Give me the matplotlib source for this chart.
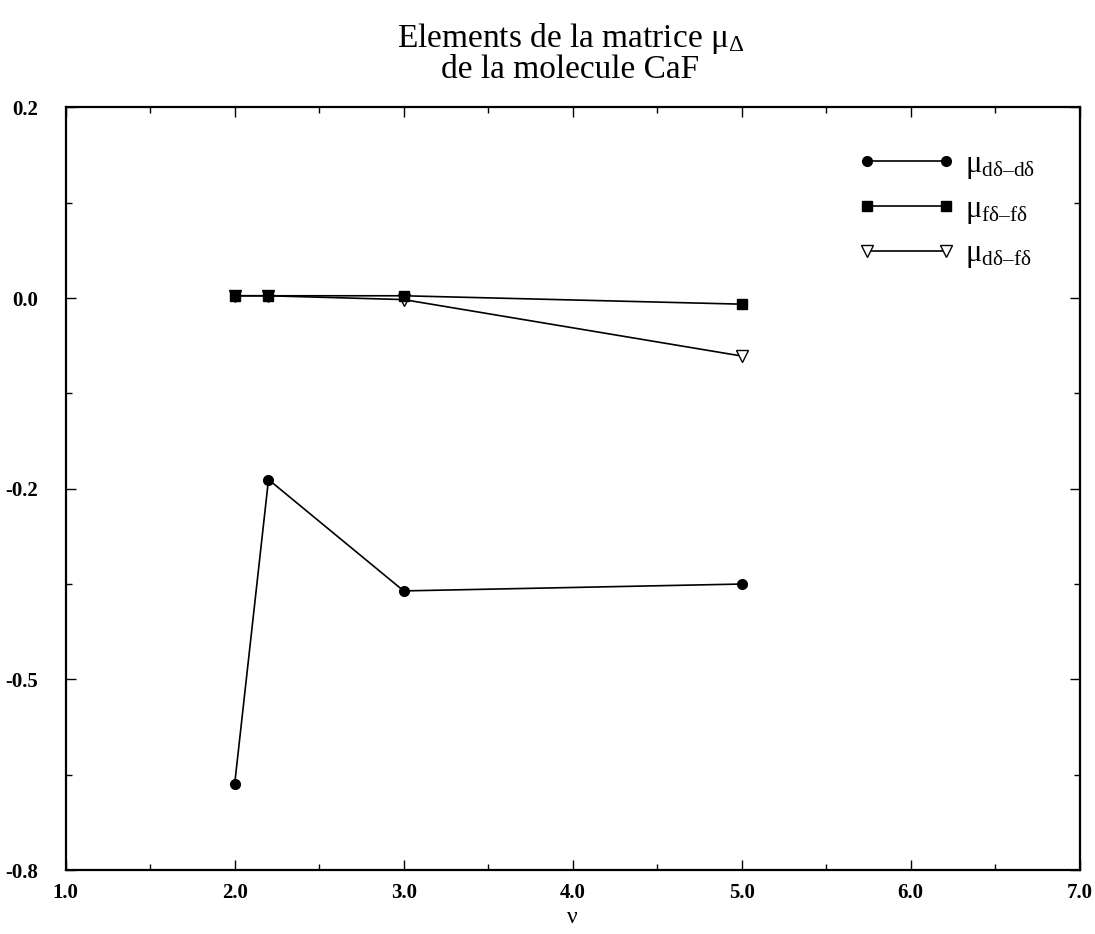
import matplotlib
matplotlib.use("Agg")
import matplotlib.pyplot as plt
from matplotlib.lines import Line2D
from matplotlib.legend_handler import HandlerLine2D
from matplotlib.ticker import MultipleLocator, FixedLocator

plt.rcParams['font.family'] = ['Liberation Serif', 'DejaVu Serif']
plt.rcParams['mathtext.fontset'] = 'stix'
plt.rcParams['axes.unicode_minus'] = False

# quantum number nu and matrix elements
nu = [2.0, 2.2, 3.0, 5.0]
mu_dd = [-0.687, -0.288, -0.434, -0.425]
mu_ff = [-0.047, -0.047, -0.047, -0.058]
mu_df = [-0.047, -0.047, -0.052, -0.126]

x_ticks = [1.0, 2.0, 3.0, 4.0, 5.0, 6.0, 7.0]
x_labels = ['1.0', '2.0', '3.0', '4.0', '5.0', '6.0', '7.0']
y_ticks = [0.2, -0.05, -0.3, -0.55, -0.8]
y_labels = ['0.2', '0.0', '-0.2', '-0.5', '-0.8']
y_minor = [0.075, -0.175, -0.425, -0.675]

W, H = 1095, 934
fig = plt.figure(figsize=(W / 100, H / 100), dpi=100)
ax = fig.add_axes([0.060, 0.0685, 0.926, 0.8165])

lw = 1.2
ax.plot(nu, mu_df, color='black', lw=lw, marker='v', ms=9,
        mfc='white', mec='black', mew=1.0,
        label=r'$\mathregular{\mu_{d\delta–f\delta}}$', zorder=2)
ax.plot(nu, mu_ff, color='black', lw=lw, marker='s', ms=6.5,
        mfc='black', mec='black',
        label=r'$\mathregular{\mu_{f\delta–f\delta}}$', zorder=3)
ax.plot(nu, mu_dd, color='black', lw=lw, marker='o', ms=7,
        mfc='black', mec='black',
        label=r'$\mathregular{\mu_{d\delta–d\delta}}$', zorder=3)

ax.set_xlim(1.0, 7.0)
ax.set_ylim(-0.8, 0.2)

ax.xaxis.set_major_locator(FixedLocator(x_ticks))
ax.set_xticklabels(x_labels)
ax.xaxis.set_minor_locator(MultipleLocator(0.5))
ax.yaxis.set_major_locator(FixedLocator(y_ticks))
ax.set_yticklabels(y_labels)
ax.yaxis.set_minor_locator(FixedLocator(y_minor))

ax.tick_params(which='both', direction='in', top=True, right=True,
               width=1.0, colors='black')
ax.tick_params(which='major', length=7, labelsize=15)
ax.tick_params(which='minor', length=4)
ax.tick_params(axis='x', which='major', pad=9)
ax.tick_params(axis='y', which='major', pad=20)
for lab in ax.get_xticklabels() + ax.get_yticklabels():
    lab.set_fontweight('bold')

for sp in ax.spines.values():
    sp.set_linewidth(1.6)

ax.set_xlabel('ν', fontsize=17, labelpad=3)

fig.suptitle('Elements de la matrice $\\mathregular{\\mu_\\Delta}$\nde la molecule CaF',
             x=0.521, y=0.978, fontsize=24, linespacing=0.95)

handles, labels = ax.get_legend_handles_labels()
order = [2, 1, 0]
ax.legend([handles[i] for i in order], [labels[i] for i in order],
          loc='upper left', bbox_to_anchor=(867 / W, (H - 150) / H),
          bbox_transform=fig.transFigure, frameon=False, borderpad=0,
          borderaxespad=0, numpoints=2, handlelength=2.6, fontsize=22,
          labelspacing=0.45, handletextpad=0.6,
          handler_map={Line2D: HandlerLine2D(marker_pad=0)})

fig.savefig('out.png', dpi=100, facecolor='white')
